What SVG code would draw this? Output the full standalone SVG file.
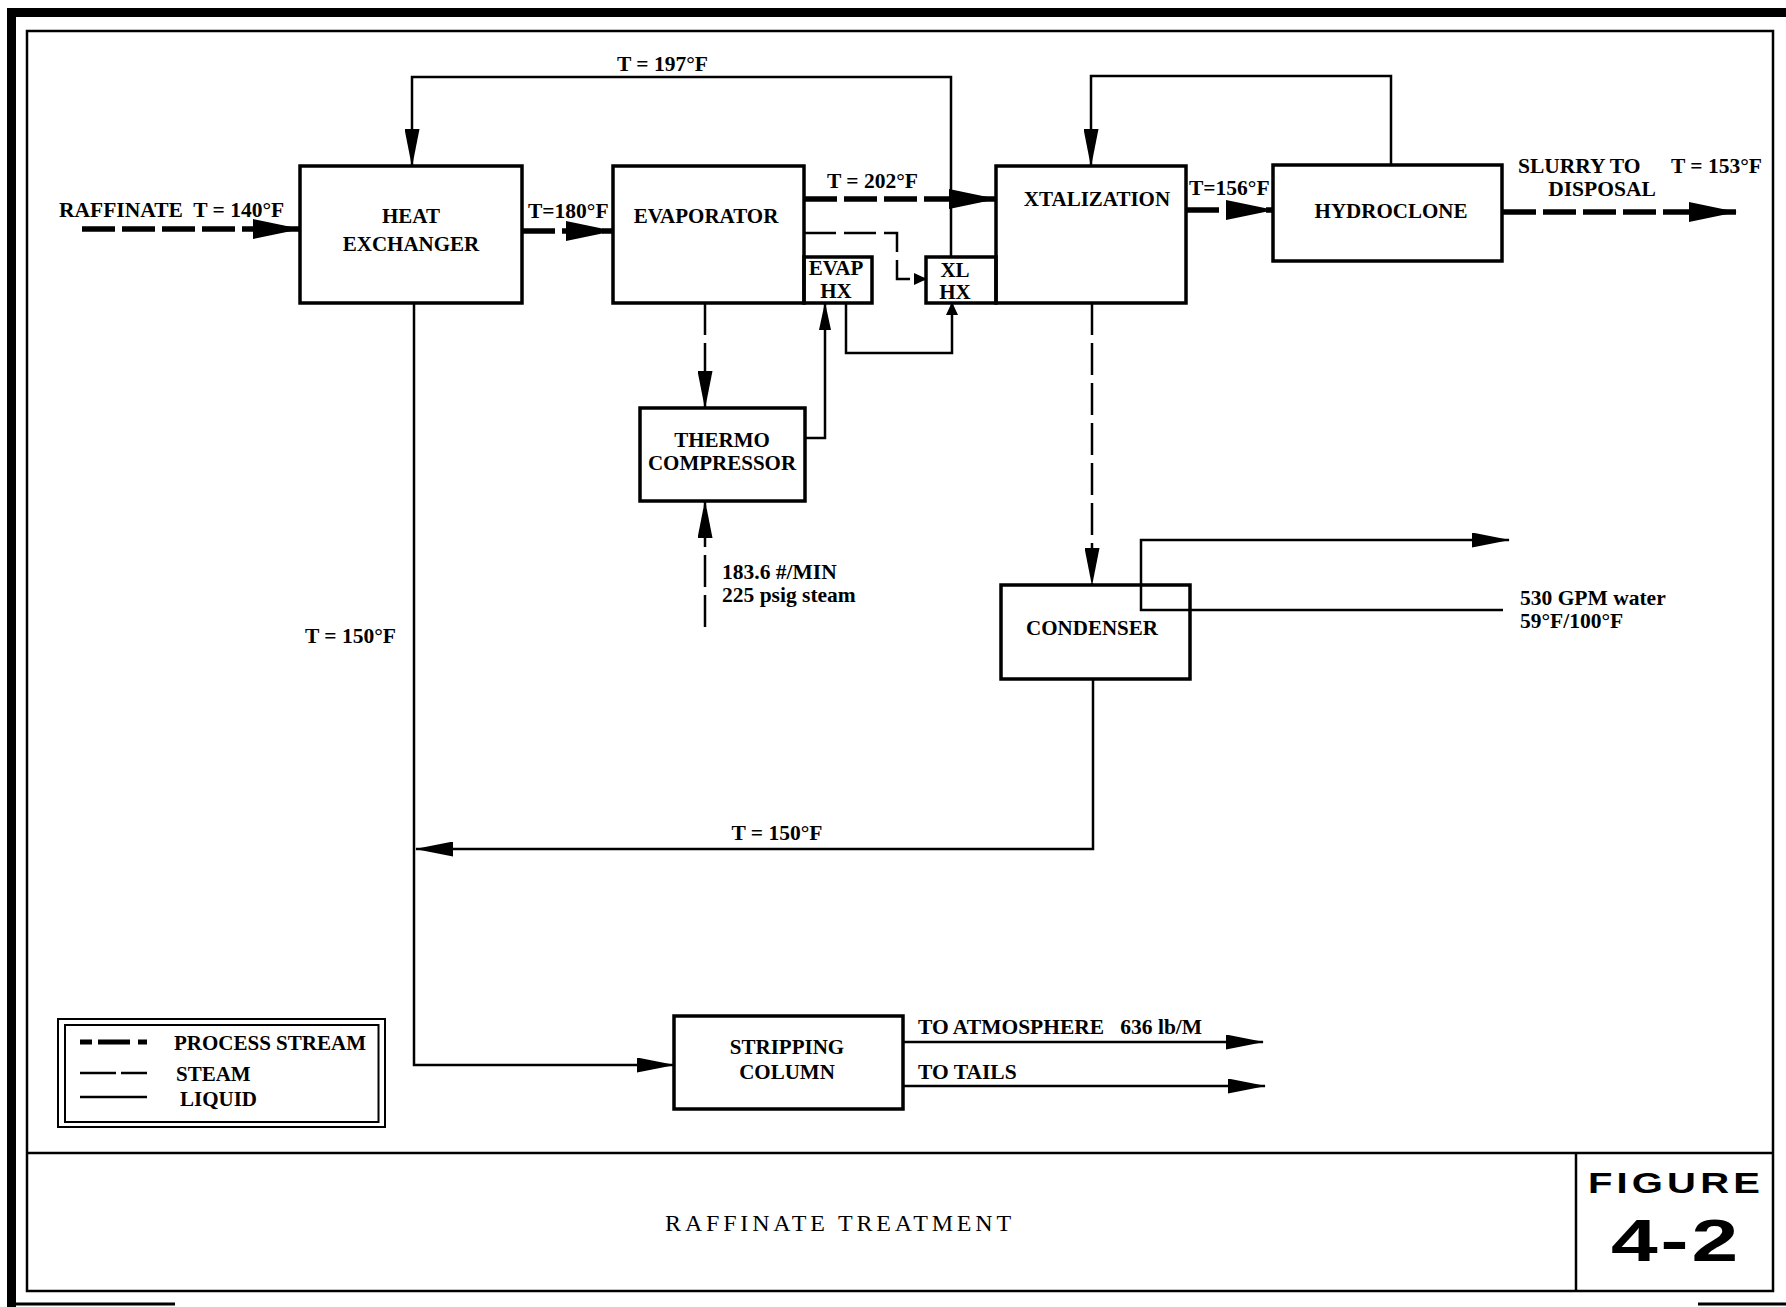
<svg xmlns="http://www.w3.org/2000/svg" width="1786" height="1307" viewBox="0 0 1786 1307">
<style>
  .frame { fill: none; stroke: #000; stroke-width: 2.5; }
  .box { fill: none; stroke: #000; stroke-width: 3.5; }
  .t { font-family: "Liberation Serif", "DejaVu Serif", serif; font-weight: bold; font-size: 21px; fill: #000; }
  .lbl { font-family: "Liberation Serif", "DejaVu Serif", serif; font-weight: bold; font-size: 21.5px; fill: #000; white-space: pre; }
  .mid { text-anchor: middle; }
  .proc { fill: none; stroke: #000; stroke-width: 5.5; stroke-dasharray: 33 7; }
  .steam { fill: none; stroke: #000; stroke-width: 2.5; stroke-dasharray: 32 8; }
  .liq { fill: none; stroke: #000; stroke-width: 2.5; }
</style>
<defs>
  <marker id="ap" viewBox="0 0 48 20" markerWidth="48" markerHeight="20" refX="47" refY="10" orient="auto" markerUnits="userSpaceOnUse"><path d="M0,0 L48,10 L0,20 z" fill="#000"/></marker>
  <marker id="al" viewBox="0 0 38 15" markerWidth="38" markerHeight="15" refX="37" refY="7.5" orient="auto" markerUnits="userSpaceOnUse"><path d="M0,0 L38,7.5 L0,15 z" fill="#000"/></marker>
  <marker id="am" viewBox="0 0 28 12" markerWidth="28" markerHeight="12" refX="27" refY="6" orient="auto" markerUnits="userSpaceOnUse"><path d="M0,0 L28,6 L0,12 z" fill="#000"/></marker>
  <marker id="as" viewBox="0 0 13 12" markerWidth="13" markerHeight="12" refX="12" refY="6" orient="auto" markerUnits="userSpaceOnUse"><path d="M0,0 L13,6 L0,12 z" fill="#000"/></marker>
</defs>
<rect width="1786" height="1307" fill="#fff"/>

<g id="frame">
  <line x1="11.5" y1="8" x2="11.5" y2="1307" stroke="#000" stroke-width="9"/>
  <line x1="7" y1="12.5" x2="1786" y2="12.5" stroke="#000" stroke-width="9"/>
  <line x1="8" y1="1304" x2="175" y2="1304" stroke="#000" stroke-width="3"/>
  <line x1="1698" y1="1304" x2="1786" y2="1304" stroke="#000" stroke-width="3"/>
  <rect class="frame" x="27" y="31" width="1746" height="1260"/>
  <line class="frame" x1="27" y1="1153" x2="1773" y2="1153"/>
  <line class="frame" x1="1576" y1="1153" x2="1576" y2="1291"/>
  <text x="840" y="1231" text-anchor="middle" font-family="'Liberation Serif', 'DejaVu Serif', serif" font-size="24" letter-spacing="3.8">RAFFINATE TREATMENT</text>
  <text transform="translate(1676,1193) scale(1.38,1)" text-anchor="middle" font-family="'Liberation Sans', Arial, sans-serif" font-weight="bold" font-size="29" letter-spacing="3">FIGURE</text>
  <text transform="translate(1676,1261) scale(1.4,1)" text-anchor="middle" font-family="'Liberation Sans', Arial, sans-serif" font-weight="bold" font-size="60" letter-spacing="2">4-2</text>
</g>

<g id="heat-exchanger">
  <rect class="box" x="300" y="166" width="222" height="137"/>
  <text class="t mid" x="411" y="223">HEAT</text>
  <text class="t mid" x="411" y="251">EXCHANGER</text>
</g>
<g id="evaporator">
  <rect class="box" x="613" y="166" width="191" height="137"/>
  <text class="t mid" x="706" y="223">EVAPORATOR</text>
</g>
<g id="evap-hx">
  <rect class="box" x="804" y="257" width="68" height="46"/>
  <text class="t mid" x="836" y="275">EVAP</text>
  <text class="t mid" x="836" y="298">HX</text>
</g>
<g id="xl-hx">
  <rect class="box" x="926" y="257" width="70" height="46"/>
  <text class="t mid" x="955" y="277">XL</text>
  <text class="t mid" x="955" y="299">HX</text>
</g>
<g id="xtalization">
  <rect class="box" x="996" y="166" width="190" height="137"/>
  <text class="t mid" x="1097" y="206">XTALIZATION</text>
</g>
<g id="hydroclone">
  <rect class="box" x="1273" y="165" width="229" height="96"/>
  <text class="t mid" x="1391" y="218">HYDROCLONE</text>
</g>
<g id="thermo-compressor">
  <rect class="box" x="640" y="408" width="165" height="93"/>
  <text class="t mid" x="722" y="447">THERMO</text>
  <text class="t mid" x="722" y="470">COMPRESSOR</text>
</g>
<g id="condenser">
  <rect class="box" x="1001" y="585" width="189" height="94"/>
  <text class="t mid" x="1092" y="635">CONDENSER</text>
</g>
<g id="stripping-column">
  <rect class="box" x="674" y="1016" width="229" height="93"/>
  <text class="t mid" x="787" y="1054">STRIPPING</text>
  <text class="t mid" x="787" y="1079">COLUMN</text>
</g>
<g id="legend">
  <rect x="58" y="1019" width="327" height="108" fill="none" stroke="#000" stroke-width="2"/>
  <rect x="65" y="1025" width="313.5" height="97" fill="none" stroke="#000" stroke-width="2"/>
  <path d="M80,1042 H92 M98,1042 H130 M138,1042 H147" stroke="#000" stroke-width="5" fill="none"/>
  <path d="M80,1073 H116 M121,1073 H147" stroke="#000" stroke-width="2.5" fill="none"/>
  <path d="M80,1097 H147" stroke="#000" stroke-width="2.5" fill="none"/>
  <text class="t" x="174" y="1050">PROCESS STREAM</text>
  <text class="t" x="176" y="1081">STEAM</text>
  <text class="t" x="180" y="1106">LIQUID</text>
</g>

<g id="connectors">
  <path class="proc" d="M82,229 H300" marker-end="url(#ap)"/>
  <path class="proc" d="M522,231 H613" marker-end="url(#ap)"/>
  <path class="proc" d="M804,199 H996" marker-end="url(#ap)"/>
  <path class="proc" d="M1186,210 H1273" marker-end="url(#ap)"/>
  <path class="proc" d="M1503,212 H1736" marker-end="url(#ap)"/>
  <path class="liq" d="M951,257 V77 H412 V166" marker-end="url(#al)"/>
  <path class="liq" d="M1391,165 V76 H1091 V166" marker-end="url(#al)"/>
  <path class="liq" d="M846,303 V353 H952 V303" marker-end="url(#as)"/>
  <path class="liq" d="M805,438 H825 V303" marker-end="url(#am)"/>
  <path class="liq" d="M1503,610 H1141 V540 H1509" marker-end="url(#al)"/>
  <path class="liq" d="M1093,679 V849 H416" marker-end="url(#al)"/>
  <path class="liq" d="M414,303 V1065 H674" marker-end="url(#al)"/>
  <path class="liq" d="M903,1042 H1263" marker-end="url(#al)"/>
  <path class="liq" d="M903,1086 H1265" marker-end="url(#al)"/>
  <path class="steam" d="M804,233 H897 V279 H926" marker-end="url(#as)"/>
  <path class="steam" d="M705,303 V408" marker-end="url(#al)"/>
  <path class="steam" d="M705,627 V501" marker-end="url(#al)"/>
  <path class="steam" d="M1092,303 V585" marker-end="url(#al)"/>
  <text class="lbl" x="59" y="217" xml:space="preserve">RAFFINATE  T = 140°F</text>
  <text class="lbl" x="528" y="218">T=180°F</text>
  <text class="lbl" x="617" y="71">T = 197°F</text>
  <text class="lbl" x="827" y="188">T = 202°F</text>
  <text class="lbl" x="1189" y="195">T=156°F</text>
  <text class="lbl" x="1518" y="173">SLURRY TO</text>
  <text class="lbl mid" x="1602" y="196">DISPOSAL</text>
  <text class="lbl" x="1671" y="173">T = 153°F</text>
  <text class="lbl" x="722" y="579">183.6 #/MIN</text>
  <text class="lbl" x="722" y="602">225 psig steam</text>
  <text class="lbl" x="1520" y="605">530 GPM water</text>
  <text class="lbl" x="1520" y="628">59°F/100°F</text>
  <text class="lbl" x="305" y="643">T = 150°F</text>
  <text class="lbl mid" x="777" y="840">T = 150°F</text>
  <text class="lbl" x="918" y="1034" xml:space="preserve">TO ATMOSPHERE   636 lb/M</text>
  <text class="lbl" x="918" y="1079">TO TAILS</text>
</g>
</svg>
